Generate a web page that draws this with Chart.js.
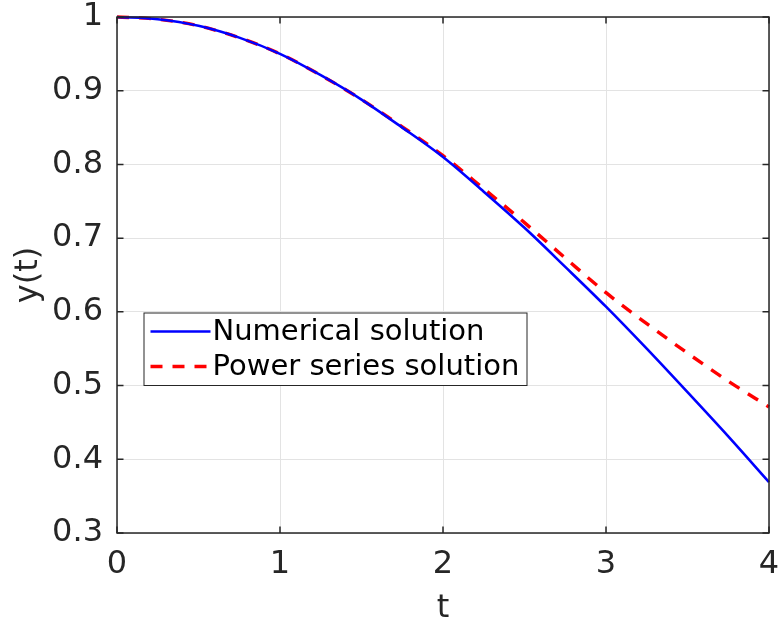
<!DOCTYPE html>
<html>
<head>
<meta charset="utf-8">
<script src="https://cdn.jsdelivr.net/npm/chart.js@4/dist/chart.umd.min.js"></script>
<style>
  html, body { margin: 0; padding: 0; background: #ffffff; }
  #wrap { width: 778px; height: 623px; }
</style>
</head>
<body>
<div id="wrap"><canvas id="c" width="778" height="623"></canvas></div>
<script>
// Sample times and the two solutions y(t)
const tValues = [0, 0.25, 0.5, 0.75, 1, 1.25, 1.5, 1.75, 2, 2.25, 2.5, 2.75, 3, 3.25, 3.5, 3.75, 4];
const numericalY = [1.000, 0.997, 0.988, 0.972, 0.950, 0.921, 0.888, 0.850, 0.810, 0.763, 0.714, 0.661, 0.607, 0.550, 0.491, 0.431, 0.369];
const powerSeriesY = [1.000, 0.997, 0.988, 0.972, 0.950, 0.921, 0.888, 0.851, 0.812, 0.767, 0.721, 0.673, 0.626, 0.584, 0.544, 0.506, 0.471];

const seriesLabels = ['Numerical solution', 'Power series solution'];

const xTicks = [0, 1, 2, 3, 4];
const xTickLabels = ['0', '1', '2', '3', '4'];
const yTicks = [0.3, 0.4, 0.5, 0.6, 0.7, 0.8, 0.9, 1];
const yTickLabels = ['0.3', '0.4', '0.5', '0.6', '0.7', '0.8', '0.9', '1'];

const axisColor = '#262626';
const fontFamily = '"DejaVu Sans", sans-serif';

function toPoints(ys) {
  return tValues.map((t, i) => ({ x: t, y: ys[i] }));
}

// Boxed axes with inward tick marks on all four sides
const framePlugin = {
  id: 'frame',
  afterDatasetsDraw(chart) {
    const { ctx, chartArea: a, scales: { x, y } } = chart;
    const len = 6.5;
    ctx.save();
    ctx.strokeStyle = axisColor;
    ctx.lineWidth = 1.5;
    ctx.beginPath();
    x.ticks.forEach(tk => {
      const px = x.getPixelForValue(tk.value);
      ctx.moveTo(px, a.bottom); ctx.lineTo(px, a.bottom - len);
      ctx.moveTo(px, a.top); ctx.lineTo(px, a.top + len);
    });
    y.ticks.forEach(tk => {
      const py = y.getPixelForValue(tk.value);
      ctx.moveTo(a.left, py); ctx.lineTo(a.left + len, py);
      ctx.moveTo(a.right, py); ctx.lineTo(a.right - len, py);
    });
    ctx.stroke();
    ctx.strokeRect(a.left, a.top, a.right - a.left, a.bottom - a.top);
    ctx.restore();
  }
};

// Legend box placed inside the plot area
const boxLegendPlugin = {
  id: 'boxLegend',
  afterDraw(chart, args, opts) {
    const { ctx, chartArea: a } = chart;
    const left = a.left + opts.offsetX;
    const top = a.top + opts.offsetY;
    const w = opts.width, h = opts.height;
    ctx.save();
    ctx.fillStyle = '#ffffff';
    ctx.fillRect(left, top, w, h);
    ctx.strokeStyle = axisColor;
    ctx.lineWidth = 1;
    ctx.strokeRect(left + 0.5, top + 0.5, w, h);
    ctx.font = opts.fontSize + 'px ' + fontFamily;
    ctx.textBaseline = 'middle';
    ctx.textAlign = 'left';
    chart.data.datasets.forEach((ds, i) => {
      const cy = top + opts.firstRow + i * opts.rowGap;
      ctx.beginPath();
      ctx.strokeStyle = ds.borderColor;
      ctx.lineWidth = ds.borderWidth;
      ctx.setLineDash(ds.borderDash || []);
      ctx.moveTo(left + opts.lineStart, cy);
      ctx.lineTo(left + opts.lineStart + opts.lineLength, cy);
      ctx.stroke();
      ctx.setLineDash([]);
      ctx.fillStyle = '#000000';
      ctx.fillText(ds.label, left + opts.textStart, cy + 1);
    });
    ctx.restore();
  }
};

new Chart(document.getElementById('c'), {
  type: 'line',
  data: {
    datasets: [
      {
        label: seriesLabels[0],
        data: toPoints(numericalY),
        borderColor: '#0000ff',
        borderWidth: 2.6,
        pointRadius: 0,
        cubicInterpolationMode: 'monotone',
        fill: false,
        clip: false
      },
      {
        label: seriesLabels[1],
        data: toPoints(powerSeriesY),
        borderColor: '#ff0000',
        borderWidth: 3.4,
        borderDash: [12, 10],
        pointRadius: 0,
        cubicInterpolationMode: 'monotone',
        fill: false,
        clip: false
      }
    ]
  },
  options: {
    responsive: false,
    animation: false,
    devicePixelRatio: 1,
    layout: { padding: { top: 17, right: 9, bottom: 0, left: 0 } },
    plugins: {
      legend: { display: false },
      tooltip: { enabled: false },
      boxLegend: {
        offsetX: 26.5, offsetY: 295.5, width: 383, height: 72.5,
        firstRow: 19, rowGap: 35,
        lineStart: 7, lineLength: 60, textStart: 69,
        fontSize: 29
      }
    },
    scales: {
      x: {
        type: 'linear',
        min: 0, max: 4,
        afterBuildTicks: s => { s.ticks = xTicks.map(v => ({ value: v })); },
        afterFit: s => { s.height = 90; s.paddingLeft = 0; s.paddingRight = 0; },
        grid: { color: '#e3e3e3', lineWidth: 1, drawTicks: false },
        border: { display: false },
        ticks: {
          padding: 12,
          color: axisColor,
          font: { family: fontFamily, size: 32 },
          maxRotation: 0,
          callback: v => xTickLabels[xTicks.indexOf(v)]
        },
        title: {
          display: true,
          text: 't',
          color: axisColor,
          font: { family: fontFamily, size: 32, lineHeight: 0.9 },
          padding: { top: 0, bottom: 0 }
        }
      },
      y: {
        type: 'linear',
        min: 0.3, max: 1,
        afterBuildTicks: s => { s.ticks = yTicks.map(v => ({ value: v })); },
        afterFit: s => { s.width = 117; s.paddingTop = 0; s.paddingBottom = 0; },
        grid: { color: '#e3e3e3', lineWidth: 1, drawTicks: false },
        border: { display: false },
        ticks: {
          padding: 14,
          color: axisColor,
          font: { family: fontFamily, size: 32 },
          callback: v => yTickLabels[yTicks.indexOf(v)]
        },
        title: {
          display: true,
          text: 'y(t)',
          color: axisColor,
          font: { family: fontFamily, size: 32 },
          padding: { top: 9, bottom: 0 }
        }
      }
    }
  },
  plugins: [framePlugin, boxLegendPlugin]
});
</script>
</body>
</html>
